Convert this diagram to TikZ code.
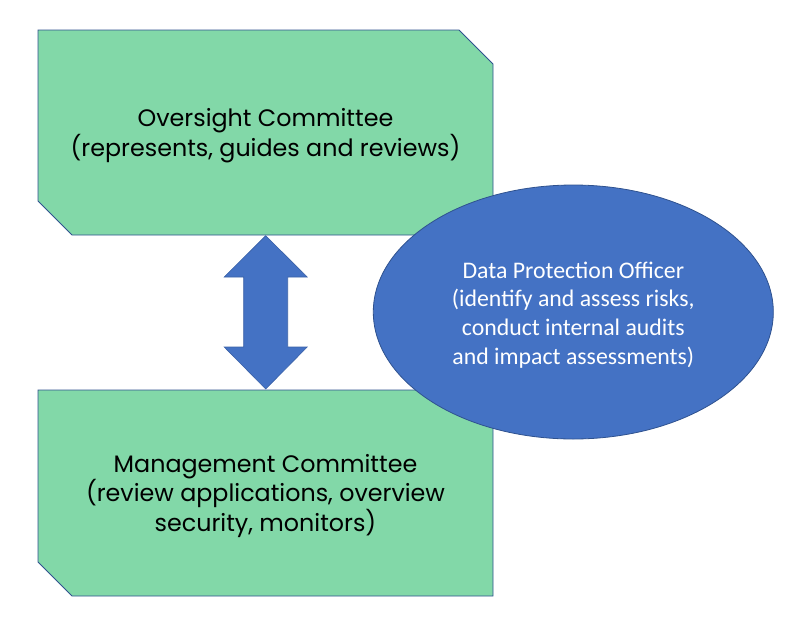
\documentclass[tikz,border=0pt]{standalone}
\usepackage{fontspec}
\setmainfont{Poppins}
\newfontfamily\carlito{Carlito}
\usetikzlibrary{shapes.geometric}
\definecolor{boxgreen}{HTML}{82D8A8}
\definecolor{edgeblue}{HTML}{2F528F}
\definecolor{fillblue}{HTML}{4472C4}
\tikzset{
  boxtext/.style={rectangle, minimum width=455pt, minimum height=205pt, inner sep=0pt,
    align=center, font=\fontsize{23.8}{29.8}\selectfont, text=black},
  boxshape/.style={fill=boxgreen, draw=edgeblue, line width=0.9pt, line join=miter},
  officer/.style={ellipse, minimum width=400pt, minimum height=254pt, inner sep=0pt,
    fill=fillblue, draw=edgeblue, line width=0.8pt, align=center, text=white,
    font=\carlito\fontsize{23.8}{28.7}\selectfont},
  dblarrow/.style={fill=fillblue, draw=fillblue!85!black, line width=0.6pt, line join=miter}
}
\begin{document}
\begin{tikzpicture}[x=1pt,y=-1pt]
\useasboundingbox (0,0) rectangle (810,632);
% boxes (text nodes)
\path (265.5,136) coordinate (ovc);
\path (265.5,496) coordinate (mgc);
\fill[boxshape] (38,30) -- (459,30) -- (493,64) -- (493,235) -- (72,235) -- (38,201) -- cycle;
\fill[boxshape] (38,390) -- (459,390) -- (493,424) -- (493,596) -- (72,596) -- (38,562) -- cycle;
\node[boxtext] (ov) at (ovc) {Oversight Committee\\(represents, guides and reviews)};
\node[boxtext] (mg) at (mgc) {Management Committee\\(review applications, overview\\security, monitors)};
% double arrow between the boxes
\coordinate (atop) at (265.7,235);
\coordinate (abot) at (265.7,390);
\filldraw[dblarrow] ([yshift=-0.7pt]atop) -- ([xshift=41.5pt,yshift=-42pt]atop) -- ([xshift=22pt,yshift=-42pt]atop)
  -- ([xshift=22pt,yshift=43pt]abot) -- ([xshift=41.5pt,yshift=43pt]abot) -- ([yshift=1pt]abot)
  -- ([xshift=-41.5pt,yshift=43pt]abot) -- ([xshift=-22pt,yshift=43pt]abot)
  -- ([xshift=-22pt,yshift=-42pt]atop) -- ([xshift=-41.5pt,yshift=-42pt]atop) -- cycle;
% officer ellipse
\node[officer] (dpo) at (573.3,312) {};
\node[align=center, text=white, inner sep=0pt, font=\carlito\fontsize{23.8}{28.7}\selectfont] (dpot) at (573.3,315) {Data Protection Officer\\(identify and assess risks,\\conduct internal audits\\and impact assessments)};
\end{tikzpicture}
\end{document}
